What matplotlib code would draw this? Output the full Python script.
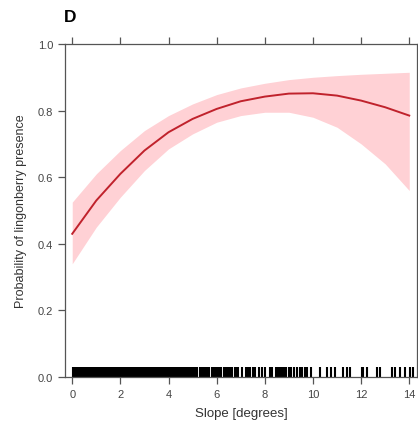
import matplotlib
matplotlib.use("Agg")
import matplotlib.pyplot as plt

plt.rcParams['font.family'] = ['Liberation Sans', 'DejaVu Sans']

# fitted probability and confidence band
slope = [0, 1, 2, 3, 4, 5, 6, 7, 8, 9, 10, 11, 12, 13, 14]
fit = [0.43, 0.53, 0.61, 0.68, 0.735, 0.775, 0.805, 0.828, 0.842, 0.851,
       0.852, 0.845, 0.83, 0.81, 0.785]
upper = [0.525, 0.61, 0.68, 0.74, 0.785, 0.82, 0.848, 0.868, 0.882, 0.893,
         0.90, 0.905, 0.909, 0.912, 0.915]
lower = [0.34, 0.45, 0.54, 0.62, 0.685, 0.73, 0.765, 0.785, 0.795, 0.795,
         0.78, 0.75, 0.70, 0.64, 0.56]

# observed slopes (rug)
rug = [
    0.05, 0.1, 0.15, 0.2, 0.25, 0.3, 0.35, 0.4, 0.45, 0.5, 0.55, 0.6, 0.65,
    0.7, 0.75, 0.8, 0.85, 0.9, 0.95, 1.0, 1.05, 1.1, 1.15, 1.2, 1.25, 1.3,
    1.35, 1.4, 1.45, 1.5, 1.55, 1.6, 1.65, 1.7, 1.75, 1.8, 1.85, 1.9, 1.95,
    2.0, 2.05, 2.1, 2.15, 2.2, 2.25, 2.3, 2.35, 2.4, 2.45, 2.5, 2.55, 2.6,
    2.65, 2.7, 2.75, 2.8, 2.85, 2.9, 2.95, 3.0, 3.05, 3.1, 3.15, 3.2, 3.25,
    3.3, 3.35, 3.4, 3.45, 3.5, 3.55, 3.6, 3.65, 3.7, 3.75, 3.8, 3.85, 3.9,
    3.95, 4.0, 4.05, 4.1, 4.15, 4.2, 4.25, 4.3, 4.35, 4.4, 4.45, 4.5, 4.55,
    4.6, 4.65, 4.7, 4.75, 4.8, 4.85, 4.9, 4.95, 5.0,
    5.1, 5.15, 5.2, 5.3, 5.35, 5.45, 5.5, 5.55, 5.65, 5.7, 5.8, 5.85, 5.95,
    6.0, 6.1, 6.2, 6.3, 6.35, 6.45, 6.5, 6.6, 6.65, 6.75, 6.8, 6.9,
    7.05, 7.2, 7.3, 7.4, 7.5, 7.6, 7.75, 7.9, 8.0, 8.2, 8.3, 8.45, 8.55,
    8.65, 8.7, 8.8, 8.9, 9.0, 9.1, 9.2, 9.35, 9.45, 9.55, 9.65, 9.75, 9.9,
    10.29, 10.57, 10.77, 10.91, 11.26, 11.4, 11.54, 12.02, 12.09, 12.23,
    12.64, 12.78, 13.27, 13.41, 13.62, 13.82, 14.03, 14.15,
]

fig = plt.figure(figsize=(4.18, 4.35), dpi=100)
ax = fig.add_axes([0.1555, 0.131, 0.842, 0.7656])

ax.fill_between(slope, lower, upper, color='#FFD1D5', lw=0)
ax.plot(slope, fit, color='#C0222C', lw=1.4)
ax.vlines(rug, 0, 0.03, color='black', lw=1.5)

ax.set_xlim(-0.3, 14.32)
ax.set_ylim(0, 1)
ax.set_xticks(range(0, 15, 2))
ax.set_yticks([0.0, 0.2, 0.4, 0.6, 0.8, 1.0])
ax.set_yticklabels(['0.0', '0.2', '0.4', '0.6', '0.8', '1.0'])

for s in ax.spines.values():
    s.set_color('#555555')
    s.set_linewidth(0.9)
ax.tick_params(axis='both', direction='out', length=5, width=0.9,
               color='#555555', labelcolor='#444444', labelsize=8)
ax.tick_params(axis='x', top=True, labeltop=False)

ax.set_xlabel('Slope [degrees]', fontsize=9.5, color='#333333', labelpad=6)
ax.set_ylabel('Probability of lingonberry presence', fontsize=9,
              color='#333333', labelpad=8)

fig.text(0.168, 0.96, 'D', fontsize=12.5, fontweight='bold', ha='center',
         va='center')

fig.savefig('out.png', dpi=100)
